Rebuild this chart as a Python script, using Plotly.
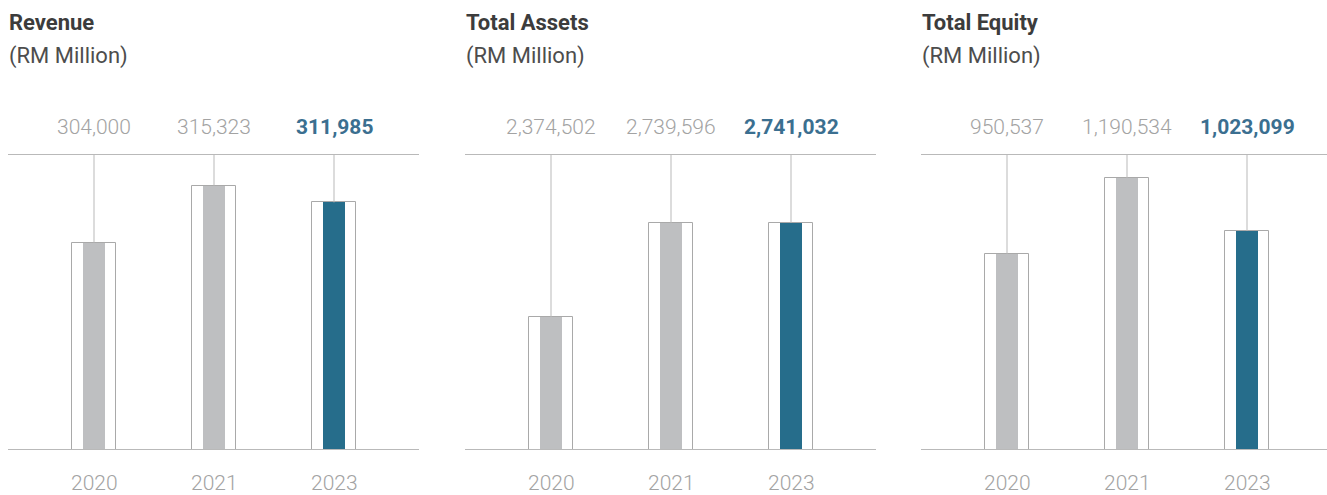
import plotly.graph_objects as go

# ---- data -------------------------------------------------------------
years = ["2020", "2021", "2023"]
titles = ["Revenue", "Total Assets", "Total Equity"]
units = "(RM Million)"
revenue = [304000, 315323, 311985]
total_assets = [2374502, 2739596, 2741032]
total_equity = [950537, 1190534, 1023099]
series = [revenue, total_assets, total_equity]

# value window shown by each panel (bars rise from the lower bound)
y_ranges = [[263000, 321400], [1860900, 3004850], [330000, 1264500]]

# ---- styling ----------------------------------------------------------
W, H = 1327, 495
GREY_BAR = "#bebfc1"
TEAL = "#266d8b"
LINE = "#b9b9b9"
EDGE = "#a9a9a9"
LABEL_GREY = "#a3a3a3"
LABEL_TEAL = "#3b6f90"
FONT = "Roboto"

panel_left = [8, 465, 921]     # px
panel_width = 411              # px
step = 120                     # px between bar centres
first_offset = 86              # px from panel start to first bar centre
top_px, base_px = 155, 449

fig = go.Figure()

for p, vals in enumerate(series):
    ax = "" if p == 0 else str(p + 1)
    xa, ya = "x" + ax, "y" + ax
    left = panel_left[p]
    right = min(left + panel_width, W)
    x_lo = -first_offset / step
    x_hi = (right - left - first_offset) / step
    xs = list(range(len(years)))
    fills = [GREY_BAR] * (len(years) - 1) + [TEAL]
    lo, hi = y_ranges[p]

    # outer framed bar
    fig.add_trace(go.Bar(
        x=xs, y=vals, width=44 / step, xaxis=xa, yaxis=ya,
        marker=dict(color="white", line=dict(color=EDGE, width=1)),
        hoverinfo="skip", showlegend=False))
    # inner filled bar
    fig.add_trace(go.Bar(
        x=xs, y=vals, width=22 / step, xaxis=xa, yaxis=ya,
        marker=dict(color=fills, line=dict(width=0)),
        hoverinfo="skip", showlegend=False))
    # connector from bar top up to the header rule
    cx, cy = [], []
    for i, v in enumerate(vals):
        cx += [i, i, None]
        cy += [v, hi, None]
    fig.add_trace(go.Scatter(
        x=cx, y=cy, mode="lines", xaxis=xa, yaxis=ya,
        line=dict(color=LINE, width=1), hoverinfo="skip", showlegend=False))

    dom_x = [left / W, right / W]
    dom_y = [(H - base_px) / H, (H - top_px) / H]
    fig.update_layout(**{
        ("xaxis" + ax): dict(domain=dom_x, range=[x_lo, x_hi], showline=True,
                             mirror=True, linecolor=LINE, linewidth=1.3,
                             showgrid=False, zeroline=False,
                             showticklabels=False, ticks="", anchor=ya),
        ("yaxis" + ax): dict(domain=dom_y, range=[lo, hi], visible=False,
                             showgrid=False, zeroline=False, anchor=xa),
    })

    # value labels above the rule
    for i, v in enumerate(vals):
        last = i == len(vals) - 1
        fig.add_annotation(
            x=i, y=1, xref=xa, yref=ya + " domain", yanchor="middle",
            yshift=top_px - 127, showarrow=False, text=f"{v:,}",
            font=dict(family=FONT, size=21,
                      color=LABEL_TEAL if last else LABEL_GREY,
                      weight=700 if last else 300))
        fig.add_annotation(
            x=i, y=0, xref=xa, yref=ya + " domain", yanchor="middle",
            yshift=-(483 - base_px), showarrow=False, text=years[i],
            font=dict(family=FONT, size=21, color=LABEL_GREY, weight=300))

    # panel heading
    fig.add_annotation(
        x=(left - 1) / W, y=1 - 23 / H, xref="paper", yref="paper",
        xanchor="left", yanchor="middle", showarrow=False,
        text=titles[p],
        font=dict(family=FONT, size=22, color="#3c3c3c", weight=700))
    fig.add_annotation(
        x=(left - 1) / W, y=1 - 56 / H, xref="paper", yref="paper",
        xanchor="left", yanchor="middle", showarrow=False,
        text=units, font=dict(family=FONT, size=22, color="#4d4d4d", weight=400))

fig.update_layout(
    width=W, height=H, margin=dict(l=0, r=0, t=0, b=0),
    paper_bgcolor="white", plot_bgcolor="white",
    barmode="overlay", bargap=0, showlegend=False)

fig.write_html("out.html", config={"displayModeBar": False})
